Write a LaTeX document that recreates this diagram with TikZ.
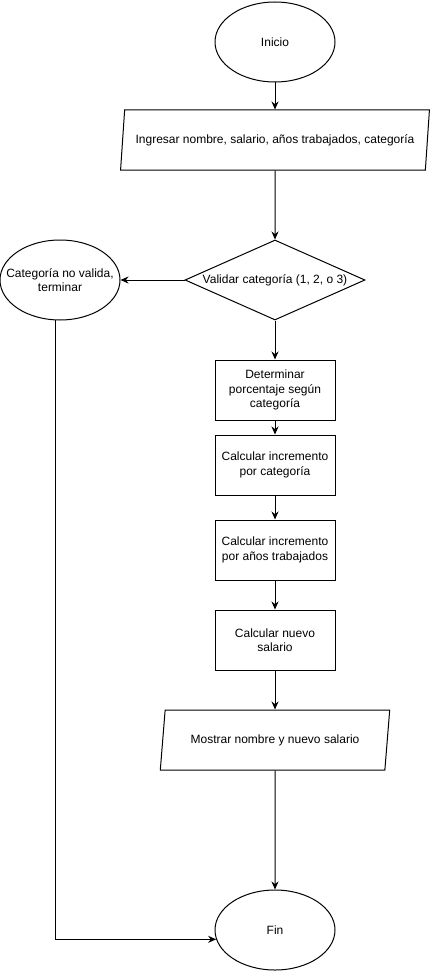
\documentclass[tikz,border=0pt]{standalone}
\usepackage{fontspec}
\setmainfont{Liberation Sans}
\usetikzlibrary{arrows.meta,shapes.geometric}

\begin{document}
\begin{tikzpicture}[x=1pt,y=-1pt,line width=1pt,
    font=\fontsize{12}{14.5}\selectfont,
    terminal/.style={draw,ellipse,minimum width=120pt,minimum height=80pt,inner sep=0pt,align=center},
    iobox/.style={draw,trapezium,trapezium left angle=71.57,trapezium right angle=108.43,
      trapezium stretches=true,minimum width=#1,minimum height=60pt,inner sep=0pt,align=center},
    procbox/.style={draw,rectangle,minimum width=120pt,minimum height=60pt,inner sep=0pt,align=center},
    decision/.style={draw,diamond,aspect=2.25,minimum width=180pt,minimum height=80pt,inner sep=0pt,align=center},
    flow/.style={-{Stealth[length=8pt,width=7pt]}}]
  \useasboundingbox (0,0) rectangle (431,971);
  % nodes, top to bottom
  \node[terminal] (inicio) at (275,42) {Inicio};
  \node[iobox=310pt] (ingresar) at (275,140) {Ingresar nombre, salario, años trabajados, categoría};
  \node[decision] (validar) at (275,280) {Validar categoría (1, 2, o 3)};
  \node[terminal,inner xsep=-12pt] (novalida) at (60,280) {Categoría no valida,\\terminar};
  \node[procbox] (porcentaje) at (275,390) {Determinar\\porcentaje según\\categoría};
  \node[procbox] (inccat) at (275,465) {Calcular incremento\\por categoría};
  \node[procbox] (incanos) at (275,550) {Calcular incremento\\por años trabajados};
  \node[procbox] (nuevo) at (275,640) {Calcular nuevo\\salario};
  \node[iobox=230pt] (mostrar) at (275,740) {Mostrar nombre y nuevo salario};
  \node[terminal] (fin) at (275,930) {Fin};
  % connectors
  \draw[flow] (inicio) -- (ingresar);
  \draw[flow] (ingresar) -- (validar);
  \draw[flow] (validar.west) -- (novalida.east);
  \draw[flow] (validar) -- (porcentaje);
  \draw[flow] (porcentaje) -- (inccat);
  \draw[flow] (inccat) -- (incanos);
  \draw[flow] (incanos) -- (nuevo);
  \draw[flow] (nuevo) -- (mostrar);
  \draw[flow] (mostrar) -- (fin);
  \draw[flow] (novalida.263) |- (fin.189.5);
\end{tikzpicture}
\end{document}
